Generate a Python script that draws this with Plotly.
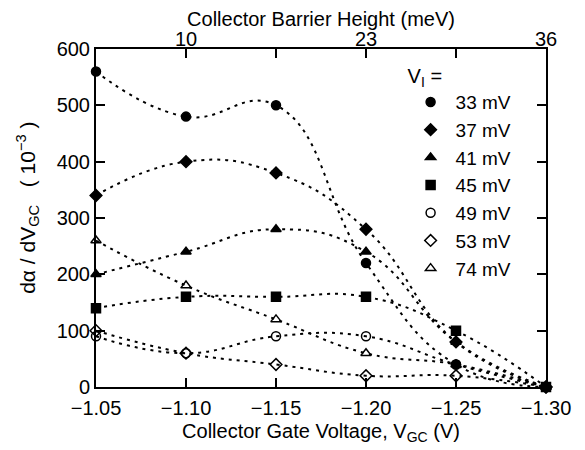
import plotly.graph_objects as go

vgc = [-1.05, -1.10, -1.15, -1.20, -1.25, -1.30]
labels = ["33 mV", "37 mV", "41 mV", "45 mV", "49 mV", "53 mV", "74 mV"]
v33 = [560, 480, 500, 220, 40, 0]
v37 = [340, 400, 380, 280, 80, 0]
v41 = [200, 240, 280, 240, 80, 0]
v45 = [140, 160, 160, 160, 100, 0]
v49 = [90, 60, 90, 90, 40, 0]
v53 = [100, 60, 40, 20, 20, 0]
v74 = [260, 180, 120, 60, 40, 0]
series = [v33, v37, v41, v45, v49, v53, v74]
symbols = ["circle", "diamond", "triangle-up", "square",
           "circle-open", "diamond-open", "triangle-up-open"]
draw_order = [1, 0, 4, 5, 3, 2, 6]  # which marker series is drawn on top
tick_vals = [-1.05, -1.10, -1.15, -1.20, -1.25, -1.30]
bottom_text = ["\u22121.05", "\u22121.10", "\u22121.15", "\u22121.20", "\u22121.25", "\u22121.30"]
top_text = ["", "10", "", "23", "", "36"]
y_ticks = [0, 100, 200, 300, 400, 500, 600]

FONT = "Liberation Sans, Arial, sans-serif"
FS = 20
fig = go.Figure()
for lab, ys in zip(labels, series):
    fig.add_trace(go.Scatter(x=vgc, y=ys, mode="lines", showlegend=False,
                             line=dict(color="black", width=2, dash="3px,5px",
                                       shape="spline", smoothing=1.3),
                             hoverinfo="skip"))
for i in draw_order:
    fig.add_trace(go.Scatter(x=vgc, y=series[i], mode="markers", name=labels[i],
                             legendrank=i + 1, cliponaxis=False,
                             marker=dict(symbol=symbols[i], size=9, color="black",
                                         line=dict(color="black", width=1.5))))
fig.add_trace(go.Scatter(x=[vgc[0]], y=[0], xaxis="x2", mode="markers",
                         marker=dict(opacity=0), showlegend=False, hoverinfo="skip"))

axis_common = dict(showgrid=False, zeroline=False, ticks="inside", ticklen=9,
                   tickwidth=1.5, linecolor="black", linewidth=2, showline=True,
                   automargin=False,
                   tickcolor="black", tickfont=dict(family=FONT, size=FS, color="black"))

fig.update_layout(
    width=585, height=450,
    margin=dict(l=88, r=47, t=41, b=71, autoexpand=False),
    paper_bgcolor="white", plot_bgcolor="white",
    font=dict(family=FONT, size=FS, color="black"),
    xaxis=dict(range=[-1.05, -1.30], tickvals=tick_vals, ticktext=bottom_text,
               ticklabelstandoff=2,
               title=dict(text="Collector Gate Voltage, V<sub>GC</sub> (V)", standoff=6,
                          font=dict(family=FONT, size=FS)),
               **axis_common),
    xaxis2=dict(range=[-1.05, -1.30], overlaying="x", side="top", anchor="y",
                tickvals=tick_vals, ticktext=top_text, ticklabelstandoff=-7,
                title=dict(text="Collector Barrier Height (meV)", standoff=0,
                           font=dict(family=FONT, size=FS)),
                **axis_common),
    yaxis=dict(range=[0, 600], tickvals=y_ticks, mirror="ticks", **axis_common),
    legend=dict(x=0.688, y=0.976, xanchor="left", yanchor="top",
                bgcolor="rgba(0,0,0,0)", tracegroupgap=0, itemwidth=40,
                font=dict(family=FONT, size=19),
                title=dict(text="V<sub>I</sub> =", font=dict(family=FONT, size=FS))),
    annotations=[dict(text="d\u03b1 / dV<sub>GC</sub>\u00a0\u00a0\u00a0(\u00a010<sup>\u22123</sup>\u00a0)",
                      textangle=-90, xref="paper", yref="paper", x=0, y=0.53,
                      xanchor="center", yanchor="middle", xshift=-68, showarrow=False,
                      font=dict(family=FONT, size=21))],
)
fig.write_html("out.html")
